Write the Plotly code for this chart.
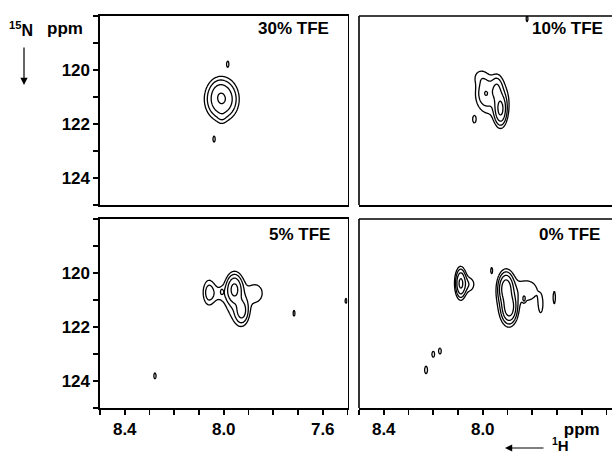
import numpy as np
import plotly.graph_objects as go

# ---------------- data ----------------
# peak lists: (1H ppm, 15N ppm, sigma 1H, sigma 15N, amplitude)
PANEL_LABELS = ["30% TFE", "10% TFE", "5% TFE", "0% TFE"]

PEAKS_30 = [
    (8.008, 121.08, 0.034, 0.40, 8.6),
    (8.020, 120.75, 0.020, 0.25, 0.8),
    (8.008, 121.75, 0.012, 0.18, 0.7),
    (7.984, 119.78, 0.005, 0.12, 1.5),
    (8.039, 122.56, 0.005, 0.12, 1.5),
]
PEAKS_10 = [
    (7.960, 121.00, 0.048, 0.55, 1.8),
    (7.990, 120.85, 0.020, 0.30, 2.6),
    (7.943, 120.70, 0.014, 0.28, 3.2),
    (7.928, 121.45, 0.014, 0.33, 9.0),
    (8.010, 120.25, 0.022, 0.22, 1.1),
    (8.034, 121.83, 0.006, 0.12, 1.6),
    (7.821, 118.10, 0.004, 0.12, 1.5),
]
PEAKS_5 = [
    (8.060, 120.72, 0.016, 0.32, 2.5),
    (8.020, 120.75, 0.030, 0.25, 1.1),
    (8.008, 120.69, 0.004, 0.08, 1.4),
    (7.957, 120.60, 0.018, 0.30, 9.0),
    (7.927, 121.40, 0.016, 0.28, 5.0),
    (7.950, 121.10, 0.035, 0.60, 1.5),
    (7.870, 120.75, 0.030, 0.35, 1.4),
    (7.716, 121.49, 0.004, 0.12, 1.5),
    (7.506, 121.03, 0.004, 0.10, 1.5),
    (8.278, 123.81, 0.005, 0.12, 1.5),
]
PEAKS_0 = [
    (8.089, 120.38, 0.012, 0.30, 9.0),
    (8.058, 120.42, 0.020, 0.22, 1.8),
    (7.964, 119.91, 0.004, 0.12, 1.5),
    (7.906, 120.57, 0.016, 0.30, 12.0),
    (7.893, 121.27, 0.016, 0.30, 12.0),
    (7.900, 120.95, 0.030, 0.60, 2.0),
    (7.820, 120.65, 0.035, 0.32, 1.8),
    (7.833, 120.97, 0.004, 0.08, 1.5),
    (7.766, 121.19, 0.009, 0.30, 1.5),
    (7.711, 120.91, 0.005, 0.25, 1.5),
    (8.229, 123.59, 0.006, 0.14, 1.6),
    (8.200, 123.01, 0.006, 0.12, 1.5),
    (8.173, 122.89, 0.006, 0.12, 1.5),
]

H_TICKS = [8.5, 8.4, 8.3, 8.2, 8.1, 8.0, 7.9, 7.8, 7.7, 7.6, 7.5]
H_LABELS_LEFT = ["", "8.4", "", "", "", "8.0", "", "", "", "7.6", ""]
H_LABELS_RIGHT = ["", "8.4", "", "", "", "8.0", "", "", "", "ppm", ""]
N_TICKS = [118, 119, 120, 121, 122, 123, 124, 125]
N_LABELS = ["", "", "120", "", "122", "", "124", ""]

# contour levels: base 1, factor 2 (log2 spacing)
LEVEL_START, LEVEL_END, LEVEL_STEP = 0, 6, 1

# ---------------- geometry ----------------
W, H = 612, 455
ML, MR, MT, MB = 100, 0, 16, 47
PW, PH = W - ML - MR, H - MT - MB


def px_x(px):
    return (px - ML) / PW


def px_y(py):
    return (H - MB - py) / PH


RIGHT_END_PX = 612
LEFT_DOM = [0.0, px_x(347.5)]
RIGHT_DOM = [px_x(359), px_x(RIGHT_END_PX)]
TOP_DOM = [px_y(205), 1.0]
BOT_DOM = [0.0, px_y(219)]
PPM_PER_PX = 1.0 / 247.5
RIGHT_MIN = 8.5 - (RIGHT_END_PX - 359) * PPM_PER_PX

gy = np.arange(117.9, 125.12, 0.03)
gx_left = np.arange(7.44, 8.56, 0.003)
gx_right = np.linspace(RIGHT_MIN + 0.0005, 8.4995, 341)


def spectrum(peaks, gx):
    GX, GY = np.meshgrid(gx, gy)
    z = np.zeros_like(GX)
    for x0, y0, sx, sy, a in peaks:
        z += a * np.exp(-((GX - x0) ** 2 / (2 * sx ** 2) + (GY - y0) ** 2 / (2 * sy ** 2)))
    lz = np.log2(np.maximum(z, 0.25))
    return np.round(lz, 2)


fig = go.Figure()
panels = [
    (PEAKS_30, gx_left, "x", "y"),
    (PEAKS_10, gx_right, "x2", "y2"),
    (PEAKS_5, gx_left, "x3", "y3"),
    (PEAKS_0, gx_right, "x4", "y4"),
]
for peaks, gx, xa, ya in panels:
    fig.add_trace(go.Contour(
        x=np.round(gx, 4), y=np.round(gy, 3), z=spectrum(peaks, gx),
        xaxis=xa, yaxis=ya,
        autocontour=False,
        contours=dict(start=LEVEL_START, end=LEVEL_END, size=LEVEL_STEP, coloring="none"),
        line=dict(color="black", width=1.3, smoothing=1.0),
        showscale=False, hoverinfo="skip",
    ))

FONT = "Liberation Sans, Arial, sans-serif"
tickfont = dict(family=FONT, size=17, color="black", weight="bold")
line_w = 1.6


def xax(domain, rng, anchor, show_ticks, labels, mirror=True):
    d = dict(domain=domain, range=rng, anchor=anchor, showgrid=False, zeroline=False,
             showline=True, linecolor="black", linewidth=line_w, mirror=mirror)
    if show_ticks:
        d.update(tickmode="array", tickvals=H_TICKS, ticktext=labels, ticks="outside",
                 ticklen=5, tickwidth=line_w, tickcolor="black", tickfont=tickfont)
    else:
        d.update(showticklabels=False, ticks="")
    return d


def yax(domain, anchor, show_ticks, showline=True):
    d = dict(domain=domain, range=[125, 118], anchor=anchor, showgrid=False, zeroline=False,
             showline=showline, linecolor="black", linewidth=line_w, mirror=showline)
    if show_ticks:
        d.update(tickmode="array", tickvals=N_TICKS, ticktext=N_LABELS, ticks="outside",
                 ticklen=5, tickwidth=line_w, tickcolor="black", tickfont=tickfont)
    else:
        d.update(showticklabels=False, ticks="")
    return d


fig.update_layout(
    width=W, height=H,
    margin=dict(l=ML, r=MR, t=MT, b=MB, pad=0),
    paper_bgcolor="white", plot_bgcolor="white",
    showlegend=False,
    xaxis=xax(LEFT_DOM, [8.5, 7.5], "y", False, None),
    yaxis=yax(TOP_DOM, "x", True),
    xaxis2=xax(RIGHT_DOM, [8.5, RIGHT_MIN], "y2", False, None, mirror=False),
    yaxis2=yax(TOP_DOM, "x2", False, showline=False),
    xaxis3=xax(LEFT_DOM, [8.5, 7.5], "y3", True, H_LABELS_LEFT),
    yaxis3=yax(BOT_DOM, "x3", True),
    xaxis4=xax(RIGHT_DOM, [8.5, RIGHT_MIN], "y4", True, H_LABELS_RIGHT, mirror=False),
    yaxis4=yax(BOT_DOM, "x4", False, showline=False),
)

# open frame of the right-hand panels (left and top edges; the right edge is cut off)
for dom in (TOP_DOM, BOT_DOM):
    fig.add_shape(type="rect", xref="paper", yref="paper", layer="above",
                  x0=px_x(607), x1=px_x(615), y0=dom[0] + 1.0 / PH, y1=dom[1] - 1.0 / PH,
                  line=dict(width=0), fillcolor="white")
    fig.add_shape(type="line", xref="paper", yref="paper",
                  x0=RIGHT_DOM[0], x1=RIGHT_DOM[0], y0=dom[0], y1=dom[1],
                  line=dict(color="black", width=line_w))
    fig.add_shape(type="line", xref="paper", yref="paper",
                  x0=RIGHT_DOM[0], x1=px_x(612), y0=dom[1], y1=dom[1],
                  line=dict(color="black", width=line_w))

labfont = dict(family=FONT, size=17, color="black", weight="bold")
label_pos = [(330.5, 28), (605, 28), (332, 234), (602, 234)]
for text, (lx, ly) in zip(PANEL_LABELS, label_pos):
    fig.add_annotation(text=text, xref="paper", yref="paper", x=px_x(lx), y=px_y(ly),
                       xanchor="right", yanchor="middle", showarrow=False, font=labfont)

# axis captions
fig.add_annotation(text="ppm", xref="paper", yref="paper", x=px_x(85), y=px_y(28),
                   xanchor="right", yanchor="middle", showarrow=False, font=labfont)
fig.add_annotation(text="<sup>15</sup>N", xref="paper", yref="paper", x=px_x(21), y=px_y(29),
                   xanchor="center", yanchor="middle", showarrow=False,
                   font=dict(family=FONT, size=16, color="black", weight="bold"))
fig.add_annotation(text="", xref="paper", yref="paper", x=px_x(24), y=px_y(85),
                   ax=0, ay=-39, showarrow=True, arrowhead=2, arrowsize=1.2,
                   arrowwidth=1.2, arrowcolor="black")
fig.add_annotation(text="<sup>1</sup>H", xref="paper", yref="paper", x=px_x(560), y=px_y(444),
                   xanchor="center", yanchor="middle", showarrow=False,
                   font=dict(family=FONT, size=15, color="black", weight="bold"))
fig.add_annotation(text="", xref="paper", yref="paper", x=px_x(505), y=px_y(448),
                   ax=40, ay=0, showarrow=True, arrowhead=2, arrowsize=1.2,
                   arrowwidth=1.2, arrowcolor="black")

fig.write_html("out.html", config={"staticPlot": True, "displayModeBar": False})
